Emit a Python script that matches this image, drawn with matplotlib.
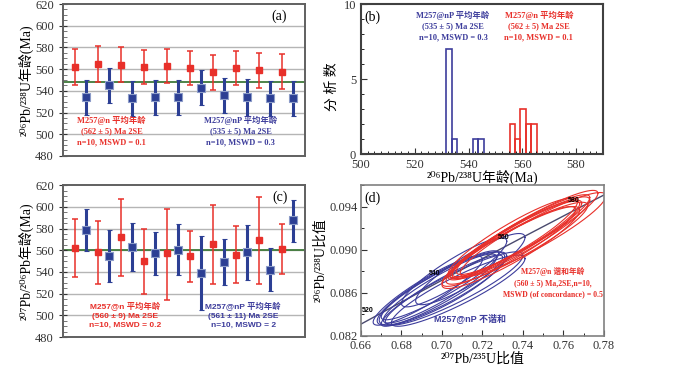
import numpy as np
import matplotlib
matplotlib.use("Agg")
import matplotlib.pyplot as plt
from matplotlib.ticker import MultipleLocator

SERIF = ['Liberation Serif', 'DejaVu Serif', 'Noto Sans CJK SC']
SANS = ['Liberation Sans', 'DejaVu Sans', 'Noto Sans CJK SC']
plt.rcParams['font.family'] = SERIF

# ---- data ----
# (a) 206Pb/238U ages, spot order along x
a_n_age = [562, 565, 564, 562, 563, 561, 557, 561, 559, 557.5]
a_n_err = [16.5, 16.5, 16, 16, 16, 16, 16, 16, 16, 16]
a_np_age = [534, 545, 533, 534, 534, 543, 536, 534, 533, 533]
a_np_err = [16, 16, 16, 16, 16, 16, 16, 17, 16, 16]
a_mean = 548

# (c) 207Pb/206Pb ages
c_n_age = [562.5, 558, 572, 550, 557, 555, 566, 556, 569, 561]
c_n_lo = [535, 529, 536, 520, 514, 531, 529, 530, 529, 538]
c_n_hi = [589, 587, 607, 580, 598, 578, 602, 582, 609, 584]
c_np_age = [579, 555, 563, 557, 560, 539, 549, 558, 542, 588]
c_np_lo = [559, 531, 541, 537, 537, 505, 528, 533, 522, 568]
c_np_hi = [598, 579, 585, 577, 584, 573, 570, 583, 562, 606]
c_mean = 560

# (b) histogram bins (left edges) and counts
b_np_left = [531.7, 533.7, 541.7, 543.7]
b_np_count = [7, 1, 1, 1]
b_n_left = [555.3, 557.3, 559.3, 561.3, 563.3]
b_n_count = [2, 1, 3, 2, 2]
bin_w = 2.0

# (d) error ellipses: centres, half extents, correlation
d_np_x = [0.706, 0.714, 0.700, 0.699, 0.700, 0.706, 0.699, 0.700, 0.693, 0.708]
d_np_y = [0.0864, 0.0882, 0.0862, 0.0864, 0.0864, 0.0879, 0.0867, 0.0864, 0.0862, 0.0862]
d_np_sx = [0.034, 0.027, 0.030, 0.028, 0.031, 0.026, 0.029, 0.032, 0.027, 0.033]
d_np_sy = [0.0034, 0.0033, 0.0033, 0.0032, 0.0034, 0.0032, 0.0032, 0.0034, 0.0032, 0.0033]
d_np_rho = [0.90, 0.89, 0.93, 0.91, 0.86, 0.90, 0.92, 0.88, 0.91, 0.90]

d_n_x = [0.739, 0.742, 0.745, 0.735, 0.739, 0.736, 0.734, 0.736, 0.737, 0.733]
d_n_y = [0.0911, 0.0916, 0.0914, 0.0911, 0.0913, 0.0909, 0.0902, 0.0909, 0.0906, 0.0903]
d_n_sx = [0.034, 0.035, 0.036, 0.032, 0.034, 0.033, 0.034, 0.032, 0.035, 0.033]
d_n_sy = [0.0038, 0.0039, 0.0039, 0.0037, 0.0038, 0.0037, 0.0038, 0.0036, 0.0038, 0.0037]
d_n_rho = [0.92, 0.93, 0.92, 0.91, 0.93, 0.92, 0.91, 0.93, 0.92, 0.92]

conc_labels = [520, 540, 560, 580]
lam238 = 1.55125e-10
lam235 = 9.8485e-10

RED = '#e8302a'
BLUE = '#2c3f94'
BLUE2 = '#3d3d9c'
GREEN = '#3f7a3a'
SPINE = '#606060'

fig = plt.figure(figsize=(7, 3.66), dpi=100)
ax_a = fig.add_axes([0.09, 0.574, 0.3457, 0.415])
ax_b = fig.add_axes([0.5157, 0.579, 0.3457, 0.41])
ax_c = fig.add_axes([0.09, 0.079, 0.3457, 0.4153])
ax_d = fig.add_axes([0.5157, 0.082, 0.3471, 0.4126])


def style_axes(ax, lw=1.4, color=SPINE):
    for s in ax.spines.values():
        s.set_linewidth(lw)
        s.set_color(color)
    ax.tick_params(labelsize=9, colors='#333333')


def age_panel(ax, n_age, n_lo, n_hi, np_age, np_lo, np_hi, mean, ylabel, tag):
    xn = np.arange(1, 21, 2)
    xp = np.arange(2, 21, 2)
    ax.set_xlim(0, 21)
    ax.set_ylim(480, 620)
    ax.set_yticks(np.arange(480, 621, 20))
    ax.yaxis.set_minor_locator(MultipleLocator(5))
    ax.set_xticks([])
    for g in range(500, 601, 20):
        ax.axhline(g, color='#b5b5b5', lw=1, zorder=0)
    ax.axhline(mean, color=GREEN, lw=1.3, zorder=1)
    n_age = np.array(n_age)
    np_age = np.array(np_age)
    ax.errorbar(xn, n_age, yerr=[n_age - np.array(n_lo), np.array(n_hi) - n_age],
                fmt='s', color=RED, ms=4, elinewidth=1.1, capsize=2, capthick=1.1,
                mec=RED, zorder=3)
    ax.errorbar(xp, np_age, yerr=[np_age - np.array(np_lo), np.array(np_hi) - np_age],
                fmt='s', color=BLUE, ms=6, elinewidth=2.2, capsize=1.8, capthick=1.2,
                mec='#8b9bc8', mew=0.8, zorder=3)
    ax.tick_params(axis='y', which='major', direction='inout', length=6)
    ax.tick_params(axis='y', which='minor', direction='in', length=3, color=SPINE)
    ax.set_ylabel(ylabel, fontsize=10)
    ax.yaxis.set_label_coords(-0.12, 0.5)
    ax.text(0.895, 0.92, tag, transform=ax.transAxes, fontsize=10, ha='center', va='center')
    style_axes(ax)


age_panel(ax_a, a_n_age, np.array(a_n_age) - np.array(a_n_err), np.array(a_n_age) + np.array(a_n_err),
          a_np_age, np.array(a_np_age) - np.array(a_np_err), np.array(a_np_age) + np.array(a_np_err),
          a_mean, '²⁰⁶Pb/²³⁸U年龄(Ma)', '(a)')
ax_a.text(0.2, 0.265, 'M257@n 平均年龄\n(562 ± 5) Ma 2SE\nn=10, MSWD = 0.1', transform=ax_a.transAxes,
          ha='center', va='top', color=RED, fontsize=6, fontweight='bold', linespacing=1.45)
ax_a.text(0.735, 0.265, 'M257@nP 平均年龄\n(535 ± 5) Ma 2SE\nn=10, MSWD = 0.3', transform=ax_a.transAxes,
          ha='center', va='top', color=BLUE2, fontsize=6, fontweight='bold', linespacing=1.45)

age_panel(ax_c, c_n_age, c_n_lo, c_n_hi, c_np_age, c_np_lo, c_np_hi,
          c_mean, '²⁰⁷Pb/²⁰⁶Pb年龄(Ma)', '(c)')
ax_c.text(0.257, 0.235, 'M257@n 平均年龄\n(560 ± 9) Ma 2SE\nn=10, MSWD = 0.2', transform=ax_c.transAxes,
          ha='center', va='top', color=RED, fontsize=6, fontweight='bold', linespacing=1.45,
          family=SANS)
ax_c.text(0.745, 0.235, 'M257@nP 平均年龄\n(561 ± 11) Ma 2SE\nn=10, MSWD = 2', transform=ax_c.transAxes,
          ha='center', va='top', color=BLUE2, fontsize=6, fontweight='bold', linespacing=1.45,
          family=SANS)

# (b) histogram
ax_b.bar(b_np_left, b_np_count, width=bin_w, align='edge', fill=False, edgecolor=BLUE2, lw=1.2)
ax_b.bar(b_n_left, b_n_count, width=bin_w, align='edge', fill=False, edgecolor=RED, lw=1.2)
ax_b.set_xlim(500, 590)
ax_b.set_ylim(0, 10)
ax_b.set_xticks([500, 520, 540, 560, 580])
ax_b.xaxis.set_minor_locator(MultipleLocator(2.5))
ax_b.set_yticks([0, 5, 10])
ax_b.yaxis.set_minor_locator(MultipleLocator(1))
ax_b.tick_params(which='major', direction='in', length=4)
ax_b.tick_params(which='minor', direction='in', length=2)
ax_b.set_ylabel('分 析 数', fontsize=10)
ax_b.yaxis.set_label_coords(-0.09, 0.45)
ax_b.set_xlabel('²⁰⁶Pb/²³⁸U年龄(Ma)', fontsize=10, labelpad=-1)
ax_b.text(0.012, 0.915, '(b)', transform=ax_b.transAxes, fontsize=10, ha='left', va='center')
ax_b.text(0.38, 0.955, 'M257@nP 平均年龄\n(535 ± 5) Ma 2SE\nn=10, MSWD = 0.3', transform=ax_b.transAxes,
          ha='center', va='top', color=BLUE2, fontsize=6, fontweight='bold', linespacing=1.45)
ax_b.text(0.735, 0.955, 'M257@n 平均年龄\n(562 ± 5) Ma 2SE\nn=10, MSWD = 0.1', transform=ax_b.transAxes,
          ha='center', va='top', color=RED, fontsize=6, fontweight='bold', linespacing=1.45)
style_axes(ax_b, lw=1.5, color='#404040')

# (d) concordia
t = np.linspace(0, 2 * np.pi, 240)


def ellipses(ax, xs, ys, sxs, sys, rhos, color):
    for cx, cy, sx, sy, r in zip(xs, ys, sxs, sys, rhos):
        ex = cx + sx * np.cos(t)
        ey = cy + sy * (r * np.cos(t) + np.sqrt(1 - r * r) * np.sin(t))
        ax.plot(ex, ey, color=color, lw=0.8)


ages = np.linspace(500, 600, 300) * 1e6
ax_d.plot(np.exp(lam235 * ages) - 1, np.exp(lam238 * ages) - 1, color='#4a4a6e', lw=1, zorder=1)
ellipses(ax_d, d_np_x, d_np_y, d_np_sx, d_np_sy, d_np_rho, BLUE2)
ellipses(ax_d, d_n_x, d_n_y, d_n_sx, d_n_sy, d_n_rho, RED)
for age in conc_labels:
    cxr = np.exp(lam235 * age * 1e6) - 1
    cyr = np.exp(lam238 * age * 1e6) - 1
    ax_d.annotate(str(age), (cxr, cyr), xytext=(-8, 3), textcoords='offset points',
                  ha='center', va='center', fontsize=5, fontweight='bold', family=SANS, zorder=5)
ax_d.set_xlim(0.66, 0.78)
ax_d.set_ylim(0.082, 0.096)
ax_d.set_xticks(np.arange(0.66, 0.781, 0.02))
ax_d.set_yticks([0.082, 0.086, 0.090, 0.094])
ax_d.xaxis.set_minor_locator(MultipleLocator(0.01))
ax_d.yaxis.set_minor_locator(MultipleLocator(0.002))
ax_d.xaxis.set_major_formatter(plt.FuncFormatter(lambda v, p: f'{v:.2f}'))
ax_d.yaxis.set_major_formatter(plt.FuncFormatter(lambda v, p: f'{v:.3f}'))
ax_d.tick_params(which='major', direction='in', length=4, pad=2)
ax_d.tick_params(axis='x', which='major', pad=3)
ax_d.tick_params(which='minor', direction='in', length=2)
ax_d.set_xlabel('²⁰⁷Pb/²³⁵U比值', fontsize=10, labelpad=0)
ax_d.set_ylabel('²⁰⁶Pb/²³⁸U比值', fontsize=10)
ax_d.yaxis.set_label_coords(-0.14, 0.5)
ax_d.text(0.012, 0.915, '(d)', transform=ax_d.transAxes, fontsize=10, ha='left', va='center')
ax_d.text(0.7548, 0.0884, 'M257@n 谐和年龄\n(560 ± 5) Ma,2SE,n=10,\nMSWD (of concordance) = 0.5',
          ha='center', va='top', color=RED, fontsize=5.6, fontweight='bold', linespacing=1.5)
ax_d.text(0.7138, 0.0837, 'M257@nP 不谐和', ha='center', va='center', color=BLUE2,
          fontsize=6.5, fontweight='bold', family=SANS)
style_axes(ax_d, lw=1.2, color='#808080')

fig.savefig('out.png', dpi=100)
